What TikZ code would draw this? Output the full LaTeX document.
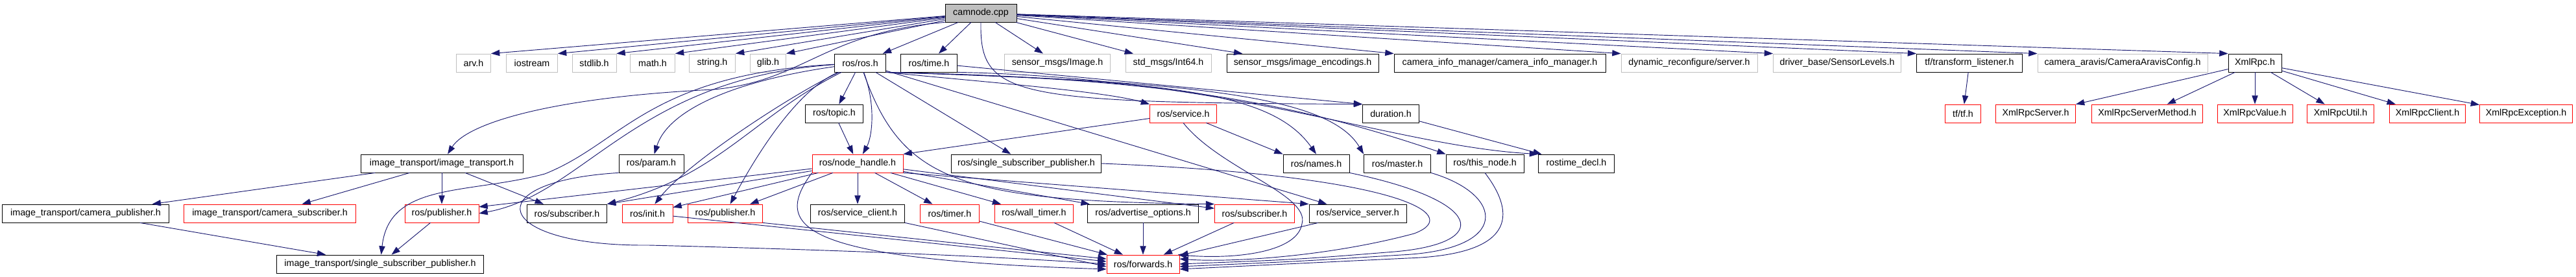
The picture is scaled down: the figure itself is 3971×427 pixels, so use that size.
\documentclass[tikz,border=0pt]{standalone}
\usepackage{fontspec}
\setmainfont{Liberation Sans}
\usetikzlibrary{arrows.meta}
\definecolor{incblue}{HTML}{191970}
\definecolor{grey75}{HTML}{BFBFBF}
\tikzset{
  hdr/.style={
    shape = rectangle,
    draw = black,
    fill = white,
    line width = 0.6pt,
    inner sep = 0pt,
    minimum height = 21pt,
    font = \fontsize{10.7}{12}\selectfont
  },
}
\tikzset{
  nodoc/.style={
    hdr,
    draw = grey75
  },
}
\tikzset{
  trunc/.style={
    hdr,
    draw = red
  },
}
\tikzset{
  rootbox/.style={
    hdr,
    fill = grey75
  },
  wd/.style={
    minimum width = #1*0.75pt
  },
  incl/.style={
    draw = incblue,
    line width = 0.7pt,
    -{Triangle[length=10pt, width=7pt]}
  }
}

\begin{document}
\begin{tikzpicture}[x=0.75pt, y=-0.75pt]
         \useasboundingbox (0,0) rectangle (3971,427);

         \node[rootbox, wd=110] (camnode) at (1512,20) {camnode.cpp};

         \node[nodoc, wd=53] (arv) at (730,97) {arv.h};
         \node[nodoc, wd=79] (iostream) at (820,97) {iostream};
         \node[nodoc, wd=68] (stdlib) at (916,97) {stdlib.h};
         \node[nodoc, wd=69] (mathh) at (1006,97) {math.h};
         \node[nodoc, wd=71] (stringh) at (1098,97) {string.h};
         \node[nodoc, wd=55] (glib) at (1184,97) {glib.h};
         \node[hdr, wd=79] (rosros) at (1326,97) {ros/ros.h};
         \node[hdr, wd=87] (rostime) at (1432,97) {ros/time.h};
         \node[nodoc, wd=163] (sensorimg) at (1630,97) {sensor\_msgs/Image.h};
         \node[nodoc, wd=132] (int64) at (1801,97) {std\_msgs/Int64.h};
         \node[hdr, wd=234] (encodings) at (2008,97) {sensor\_msgs/image\_encodings.h};
         \node[hdr, wd=326] (caminfo) at (2312,97) {camera\_info\_manager/camera\_info\_manager.h};
         \node[nodoc, wd=210] (dynreconf) at (2604,97) {dynamic\_reconfigure/server.h};
         \node[nodoc, wd=197] (sensorlevels) at (2832,97) {driver\_base/SensorLevels.h};
         \node[hdr, wd=163] (tflistener) at (3036,97) {tf/transform\_listener.h};
         \node[nodoc, wd=262] (aravisconf) at (3272,97) {camera\_aravis/CameraAravisConfig.h};
         \node[hdr, wd=82] (xmlrpc) at (3476,97) {XmlRpc.h};

         \node[hdr, wd=89] (topic) at (1286,175) {ros/topic.h};
         \node[trunc, wd=103] (service) at (1824,175) {ros/service.h};
         \node[hdr, wd=87] (duration) at (2144,175) {duration.h};
         \node[trunc, wd=55] (tftf) at (3026,175) {tf/tf.h};
         \node[trunc, wd=123] (rpcserver) at (3138,175) {XmlRpcServer.h};
         \node[trunc, wd=171] (rpcmethod) at (3310,175) {XmlRpcServerMethod.h};
         \node[trunc, wd=116] (rpcvalue) at (3476,175) {XmlRpcValue.h};
         \node[trunc, wd=103] (rpcutil) at (3608,175) {XmlRpcUtil.h};
         \node[trunc, wd=117] (rpcclient) at (3742,175) {XmlRpcClient.h};
         \node[trunc, wd=143] (rpcexcept) at (3894,175) {XmlRpcException.h};

         \node[hdr, wd=250] (imgtrans) at (681,252) {image\_transport/image\_transport.h};
         \node[hdr, wd=100] (param) at (1004,252) {ros/param.h};
         \node[trunc, wd=140] (nodehandle) at (1322,252) {ros/node\_handle.h};
         \node[hdr, wd=231] (singlesub) at (1582,252) {ros/single\_subscriber\_publisher.h};
         \node[hdr, wd=102] (names) at (2029,252) {ros/names.h};
         \node[hdr, wd=103] (master) at (2154,252) {ros/master.h};
         \node[hdr, wd=120] (thisnode) at (2289,252) {ros/this\_node.h};
         \node[hdr, wd=117] (timedecl) at (2430,252) {rostime\_decl.h};

         \node[hdr, wd=257] (campub) at (132,329) {image\_transport/camera\_publisher.h};
         \node[trunc, wd=265] (camsub) at (416,329) {image\_transport/camera\_subscriber.h};
         \node[trunc, wd=114] (pubA) at (681,329) {ros/publisher.h};
         \node[hdr, wd=123] (subA) at (874,329) {ros/subscriber.h};
         \node[trunc, wd=78] (init) at (998,329) {ros/init.h};
         \node[trunc, wd=115] (pubB) at (1118,329) {ros/publisher.h};
         \node[hdr, wd=145] (srvclient) at (1322,329) {ros/service\_client.h};
         \node[trunc, wd=91] (timer) at (1464,329) {ros/timer.h};
         \node[trunc, wd=121] (walltimer) at (1594,329) {ros/wall\_timer.h};
         \node[hdr, wd=171] (advopts) at (1762,329) {ros/advertise\_options.h};
         \node[trunc, wd=123] (subB) at (1934,329) {ros/subscriber.h};
         \node[hdr, wd=150] (srvserver) at (2093,329) {ros/service\_server.h};

         \node[hdr, wd=319] (itsingle) at (586,407) {image\_transport/single\_subscriber\_publisher.h};
         \node[trunc, wd=112] (forwards) at (1762,407) {ros/forwards.h};

         \draw[incl] (camnode) -- (arv.north east);
         \draw[incl] (camnode) -- (iostream.north east);
         \draw[incl] (camnode) -- (stdlib.north east);
         \draw[incl] (camnode) -- (mathh.north east);
         \draw[incl] (camnode) -- (stringh.north east);
         \draw[incl] (camnode) -- (glib.north east);
         \draw[incl] (camnode) -- (rosros);
         \draw[incl] (camnode) -- (rostime);
         \draw[incl] (camnode) -- (sensorimg);
         \draw[incl] (camnode) -- (int64);
         \draw[incl] (camnode) -- (encodings);
         \draw[incl] (camnode) -- (caminfo.north west);
         \draw[incl] (camnode) -- (dynreconf.north west);
         \draw[incl] (camnode) -- (sensorlevels.north west);
         \draw[incl] (camnode) -- (tflistener.north west);
         \draw[incl] (camnode) -- (aravisconf.north west);
         \draw[incl] (camnode) -- (xmlrpc.north west);
         \draw[incl] (camnode.south west) .. controls (1270,50) and (1240,125) .. (1100,138) .. controls (850,150) and (720,190) .. (imgtrans);
         \draw[incl] (camnode.south) .. controls (1510,150) and (1560,158) .. (duration.north west);

         \draw[incl] (rostime) -- (duration.north west);
         \draw[incl] (rostime.south east) .. controls (1900,120) and (2150,225) .. (timedecl.north west);
         \draw[incl] (duration) -- (timedecl);

         \draw[incl] (rosros) -- (topic);
         \draw[incl] (rosros) .. controls (1350,160) and (1345,210) .. (nodehandle);
         \draw[incl] (rosros) .. controls (1130,125) and (1030,170) .. (param);
         \draw[incl] (rosros) .. controls (980,120) and (900,300) .. (pubA.east);
         \draw[incl] (rosros) .. controls (1000,115) and (960,220) .. (840,268) .. controls (720,300) and (600,280) .. (itsingle);
         \draw[incl] (rosros) .. controls (1160,180) and (1110,270) .. (subA.north east);
         \draw[incl] (rosros) .. controls (1230,140) and (1060,250) .. (init);
         \draw[incl] (rosros) .. controls (1225,140) and (1160,250) .. (pubB);
         \draw[incl] (rosros) -- (singlesub);
         \draw[incl] (rosros) -- (srvserver);
         \draw[incl] (rosros) .. controls (1390,280) and (1480,310) .. (subB.north west);
         \draw[incl] (rosros.south east) .. controls (1500,125) and (1700,140) .. (service.north west);
         \draw[incl] (rosros.south east) .. controls (1800,125) and (1960,140) .. (names.north);
         \draw[incl] (rosros.south east) .. controls (1850,125) and (2050,150) .. (master.north west);
         \draw[incl] (rosros.south east) .. controls (1800,120) and (2000,160) .. (thisnode.north west);

         \draw[incl] (topic) -- (nodehandle);
         \draw[incl] (service) -- (nodehandle.north east);
         \draw[incl] (service) -- (names.north west);
         \draw[incl] (service.south) .. controls (1880,260) and (2020,300) .. (2007,345) .. controls (2000,390) and (1900,400) .. (forwards.15);

         \draw[incl] (nodehandle) -- (pubA.10);
         \draw[incl] (nodehandle) -- (subA.north east);
         \draw[incl] (nodehandle) -- (init);
         \draw[incl] (nodehandle) -- (pubB);
         \draw[incl] (nodehandle) -- (srvclient);
         \draw[incl] (nodehandle) -- (timer);
         \draw[incl] (nodehandle) -- (walltimer);
         \draw[incl] (nodehandle) -- (advopts);
         \draw[incl] (nodehandle) -- (subB);
         \draw[incl] (nodehandle.south east) -- (srvserver.north west);
         \draw[incl] (nodehandle.south west) .. controls (1190,350) and (1230,400) .. (forwards.188);

         \draw[incl] (param.south west) .. controls (730,280) and (760,380) .. (1000,378) .. controls (1400,388) and (1600,400) .. (forwards.west);
         \draw[incl] (init) -- (forwards.176);
         \draw[incl] (pubB.south east) -- (forwards.172);
         \draw[incl] (srvclient.south east) -- (forwards.184);
         \draw[incl] (timer) -- (forwards);
         \draw[incl] (walltimer) -- (forwards);
         \draw[incl] (advopts) -- (forwards);
         \draw[incl] (subB) -- (forwards);
         \draw[incl] (srvserver) -- (forwards);
         \draw[incl] (singlesub.east) .. controls (2150,270) and (2260,330) .. (2180,360) .. controls (2050,395) and (1900,405) .. (forwards.8);
         \draw[incl] (names.south east) .. controls (2290,310) and (2300,375) .. (2150,388) .. controls (2000,400) .. (forwards.east);
         \draw[incl] (master.south east) .. controls (2320,300) and (2330,385) .. (2160,393) .. controls (2000,403) .. (forwards.-4);
         \draw[incl] (thisnode.south) .. controls (2330,320) and (2350,392) .. (2170,398) .. controls (2000,406) .. (forwards.-8);

         \draw[incl] (imgtrans) -- (campub);
         \draw[incl] (imgtrans) -- (camsub);
         \draw[incl] (imgtrans) -- (pubA);
         \draw[incl] (imgtrans) -- (subA);
         \draw[incl] (campub) -- (itsingle);
         \draw[incl] (pubA) -- (itsingle);

         \draw[incl] (tflistener) -- (tftf);
         \draw[incl] (xmlrpc) -- (rpcserver);
         \draw[incl] (xmlrpc) -- (rpcmethod);
         \draw[incl] (xmlrpc) -- (rpcvalue);
         \draw[incl] (xmlrpc) -- (rpcutil);
         \draw[incl] (xmlrpc) -- (rpcclient);
         \draw[incl] (xmlrpc) -- (rpcexcept);
    \end{tikzpicture}
\end{document}
